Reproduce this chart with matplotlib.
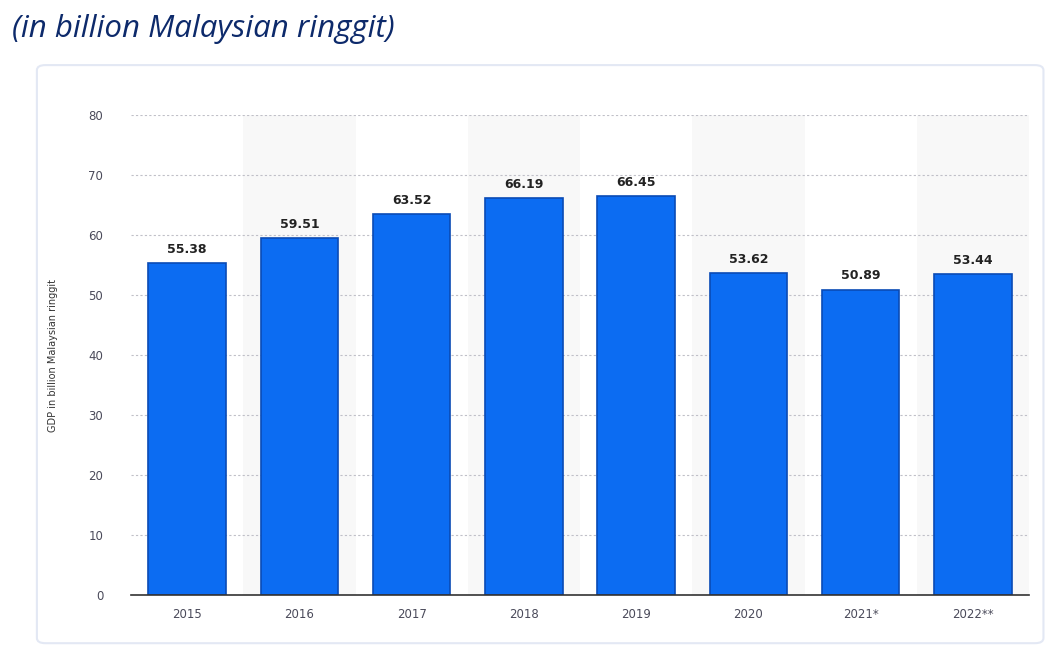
import matplotlib
matplotlib.use("Agg")
import matplotlib.pyplot as plt
from matplotlib.patches import FancyBboxPatch

years = ["2015", "2016", "2017", "2018", "2019", "2020", "2021*", "2022**"]
gdp = [55.38, 59.51, 63.52, 66.19, 66.45, 53.62, 50.89, 53.44]
yticks = [0, 10, 20, 30, 40, 50, 60, 70, 80]

fig = plt.figure(figsize=(10.54, 6.51), dpi=100)
fig.patch.set_facecolor("white")

# card behind the chart
card = FancyBboxPatch((0.035, 0.012), 0.955, 0.888, boxstyle="round,pad=0,rounding_size=0.008",
                      transform=fig.transFigure, facecolor="white", edgecolor="#e3e8f4",
                      linewidth=1.5, zorder=-10)
fig.patches.append(card)

fig.text(0.011, 0.955, "(in billion Malaysian ringgit)", fontsize=22.5, style="italic",
         color="#0d2a6b", family="Open Sans", fontweight="normal", va="center")

ax = fig.add_axes([0.1243, 0.086, 0.852, 0.7373])
x = range(len(years))

# alternating column shading
for i in x:
    if i % 2 == 1:
        ax.axvspan(i - 0.5, i + 0.5, color="#f8f8f8", zorder=0, linewidth=0)

ax.bar(x, gdp, width=0.69, color="#0c6cf2", edgecolor="#0a4bb5", linewidth=1.2, zorder=3)

for i, v in enumerate(gdp):
    ax.text(i, v + 1.2, f"{v:.2f}", ha="center", va="bottom", fontsize=9,
            fontweight="bold", color="#222222", zorder=4)

ax.set_xlim(-0.5, len(years) - 0.5)
ax.set_ylim(0, 80)
ax.set_yticks(yticks)
ax.set_xticks(list(x))
ax.set_xticklabels(years)
ax.yaxis.grid(True, linestyle=(0, (2, 2)), color="#c0c0c8", linewidth=0.8, zorder=1)
ax.set_axisbelow(True)
for s in ["top", "right", "left"]:
    ax.spines[s].set_visible(False)
ax.spines["bottom"].set_color("#333333")
ax.spines["bottom"].set_linewidth(1.2)
ax.spines["bottom"].set_zorder(5)
ax.tick_params(axis="both", length=0, labelsize=8.5, labelcolor="#4a4a5a")
ax.tick_params(axis="y", pad=20)
ax.tick_params(axis="x", pad=9)
ax.set_facecolor("white")
ax.set_ylabel("GDP in billion Malaysian ringgit", fontsize=7, color="#333333", labelpad=22)

fig.savefig("out.png", dpi=100)
